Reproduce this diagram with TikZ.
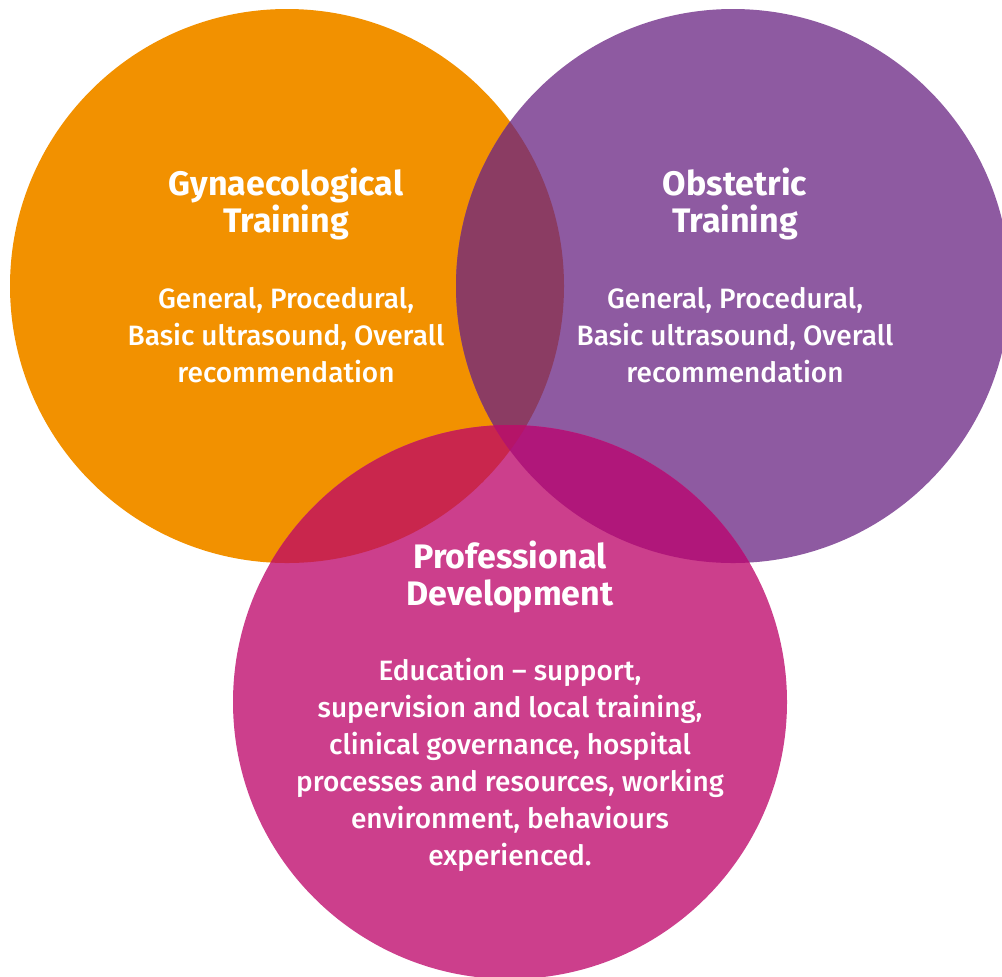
\documentclass[tikz,border=0pt]{standalone}
\usepackage{fontspec}
\setmainfont{Fira Sans}[UprightFont=* Medium, BoldFont=* Bold]
\definecolor{gynorange}{HTML}{F29100}
\definecolor{obspurple}{HTML}{8E5AA1}
\definecolor{devpink}{HTML}{CC3F8C}
\definecolor{gynobs}{HTML}{8B3C63}
\definecolor{gyndev}{HTML}{C9264D}
\definecolor{obsdev}{HTML}{B0177A}
\definecolor{allthree}{HTML}{B51468}
\begin{document}
\begin{tikzpicture}[x=0.75pt,y=-0.75pt,
  heading/.style={text=white,font=\fontsize{25.5}{27.75}\selectfont\bfseries,align=center},
  bodytext/.style={text=white,font=\fontsize{21}{27.75}\selectfont,align=center}]
\useasboundingbox (0,0) rectangle (1002,976);
\clip (0,0) rectangle (1002,976);
% circle outlines
\def\gyncircle{(287,286) circle[radius=277]}
\def\obscircle{(733,286) circle[radius=277]}
\def\devcircle{(510,702) circle[radius=277]}
% base fills
\fill[gynorange] \gyncircle;
\fill[obspurple] \obscircle;
\fill[devpink] \devcircle;
% pairwise overlaps
\begin{scope}
  \clip \gyncircle;
  \fill[gynobs] \obscircle;
  \fill[gyndev] \devcircle;
\end{scope}
\begin{scope}
  \clip \obscircle;
  \fill[obsdev] \devcircle;
\end{scope}
% centre of all three
\begin{scope}
  \clip \gyncircle;
  \clip \obscircle;
  \fill[allthree] \devcircle;
\end{scope}
% labels
\node[heading] (gynhead) at (286,204) {Gynaecological\\Training};
\node[bodytext] (gynbody) at (286,335) {General, Procedural,\\Basic ultrasound, Overall\\recommendation};
\node[heading] (obshead) at (735,204) {Obstetric\\Training};
\node[bodytext] (obsbody) at (735,335) {General, Procedural,\\Basic ultrasound, Overall\\recommendation};
\node[heading] (devhead) at (510,577) {Professional\\Development};
\node[bodytext] (devbody) at (510,765) {Education – support,\\supervision and local training,\\clinical governance, hospital\\processes and resources, working\\environment, behaviours\\experienced.};
\end{tikzpicture}
\end{document}
